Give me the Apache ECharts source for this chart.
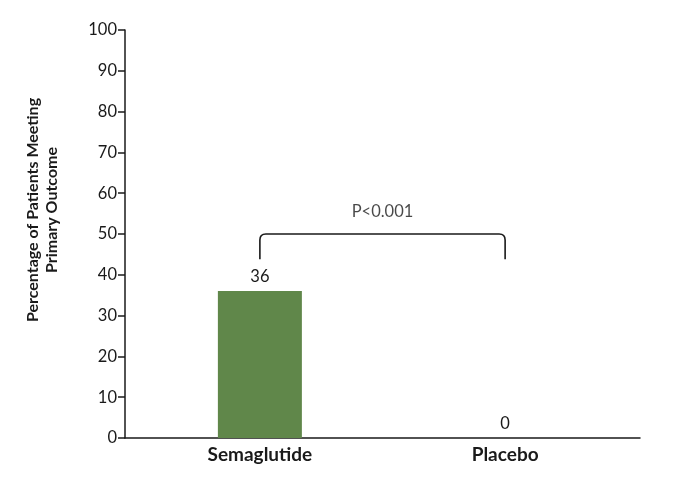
<!DOCTYPE html>
<html><head><meta charset="utf-8">
<script src="https://cdn.jsdelivr.net/npm/echarts@6/dist/echarts.min.js"></script>
<style>html,body{margin:0;padding:0;background:#fff}#c{width:680px;height:488px}</style>
</head><body><div id="c"></div>
<script>
var categories = ['Semaglutide', 'Placebo'];
var values = [36, 0];
var yTicks = [0, 10, 20, 30, 40, 50, 60, 70, 80, 90, 100];
var bracketLeft = 43.8, bracketTop = 50;
var pText = 'P<0.001';

var chart = echarts.init(document.getElementById('c'));
var barData = values.map(function (v, i) { return [i, v]; });
var ink = '#1a1a1a';
chart.setOption({
  animation: false,
  grid: { left: 125, right: 40, top: 30, bottom: 50 },
  xAxis: {
    type: 'value', min: -0.55, max: 1.55,
    splitLine: { show: false },
    axisLine: { show: true, onZero: false, lineStyle: { color: ink, width: 1.5 } },
    axisTick: { show: false },
    axisLabel: {
      customValues: [0, 1],
      formatter: function (v) { return categories[Math.round(v)]; },
      fontFamily: 'Lato', fontWeight: 'bold', fontSize: 19, color: ink, margin: 7
    }
  },
  yAxis: {
    type: 'value', min: 0, max: 100, interval: 10,
    name: 'Percentage of Patients Meeting\nPrimary Outcome',
    nameLocation: 'middle', nameGap: 64,
    nameTextStyle: { fontFamily: 'Lato', fontWeight: 'bold', fontSize: 16, color: ink, lineHeight: 19, padding: [0, 0, 0, 48] },
    splitLine: { show: false },
    axisLine: { show: true, onZero: false, lineStyle: { color: ink, width: 1.5 } },
    axisTick: { show: true, length: 7, lineStyle: { color: ink, width: 1.5 } },
    axisLabel: { fontFamily: 'Lato', fontSize: 16.5, color: ink, margin: 8 }
  },
  series: [
    {
      type: 'bar', data: barData, barWidth: 84,
      itemStyle: { color: '#60874a' },
      label: { show: true, position: 'top', distance: 6, fontFamily: 'Lato', fontSize: 16.5, color: ink }
    },
    {
      type: 'custom', silent: true, z: 3,
      data: [[0, 1, bracketLeft, bracketTop]],
      renderItem: function (params, api) {
        var p0 = api.coord([api.value(0), api.value(2)]);
        var p1 = api.coord([api.value(1), api.value(3)]);
        var r = 6;
        var d = 'M' + p0[0] + ' ' + p0[1] +
          ' L' + p0[0] + ' ' + (p1[1] + r) +
          ' Q' + p0[0] + ' ' + p1[1] + ' ' + (p0[0] + r) + ' ' + p1[1] +
          ' L' + (p1[0] - r) + ' ' + p1[1] +
          ' Q' + p1[0] + ' ' + p1[1] + ' ' + p1[0] + ' ' + (p1[1] + r) +
          ' L' + p1[0] + ' ' + p0[1];
        return {
          type: 'path',
          shape: { pathData: d },
          style: { fill: null, stroke: ink, lineWidth: 1.6 }
        };
      }
    },
    {
      type: 'scatter', symbolSize: 0, silent: true,
      data: [[0.5, bracketTop]],
      label: { show: true, position: 'top', distance: 14, formatter: pText, fontFamily: 'Lato', fontSize: 16.5, color: ink }
    }
  ]
});
</script></body></html>
